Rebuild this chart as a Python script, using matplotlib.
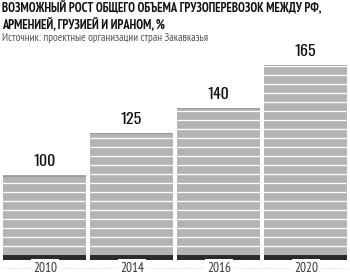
import matplotlib
matplotlib.use('Agg')
import matplotlib.pyplot as plt
import numpy as np

years = ['2010', '2014', '2016', '2020']
values = [100, 125, 140, 165]
title = 'ВОЗМОЖНЫЙ РОСТ ОБЩЕГО ОБЪЕМА ГРУЗОПЕРЕВОЗОК МЕЖДУ РФ,\nАРМЕНИЕЙ, ГРУЗИЕЙ И ИРАНОМ, %'
source = 'Источник: проектные организации стран Закавказья'

narrow = ['PT Sans Narrow', 'DejaVu Sans']
tall = ['Oswald', 'PT Sans Narrow', 'DejaVu Sans']

fig = plt.figure(figsize=(3.5, 2.79), dpi=100)
ax = fig.add_axes([1 / 350, 19 / 279, 348 / 350, 210 / 279])

x = np.arange(len(years))
base = 50
band = 3
ax.bar(x, [band] * len(x), bottom=base, width=0.965, color='#2b2b2b', zorder=2)
ax.bar(x, np.array(values) - base - band, bottom=base + band, width=0.965,
       color='#b3b3b3', zorder=2)
# slightly darker rim on top of each bar
ax.bar(x, [0.8] * len(x), bottom=np.array(values) - 0.8, width=0.965,
       color='#9a9a9a', zorder=2)

# white stripes across the bars
for y in np.arange(base + band + 5.3, 170, 5.3):
    ax.axhline(y, color='white', lw=0.9, zorder=3)

for xi, v in zip(x, values):
    ax.text(xi, v + 3.5, str(v), ha='center', va='bottom', fontsize=11.5,
            family=tall, color='#111111')

ax.set_xlim(-0.5, 3.5)
ax.set_ylim(base, 174)
ax.axis('off')

# faint dotted baseline behind the year labels
fig.add_artist(plt.Line2D([0.005, 0.995], [1 - 268 / 279] * 2, transform=fig.transFigure,
                          color='#cccccc', lw=0.6, ls=(0, (1, 2)), zorder=0))
for xi, yr in zip(x, years):
    fig.text((2 + 87 * xi + 43) / 350, 1 - 268 / 279, yr, ha='center', va='center',
             fontsize=9.5, family=narrow, color='#333333',
             bbox=dict(facecolor='white', edgecolor='none', pad=1.5))

fig.text(2 / 350, 1 - 1 / 279, title, ha='left', va='top', fontsize=9.0,
         fontweight='bold', family=narrow, color='#111111', linespacing=1.3)
fig.text(2 / 350, 1 - 38 / 279, source, ha='left', va='center', fontsize=8,
         family=narrow, color='#555555')

fig.savefig('out.png', dpi=100)
